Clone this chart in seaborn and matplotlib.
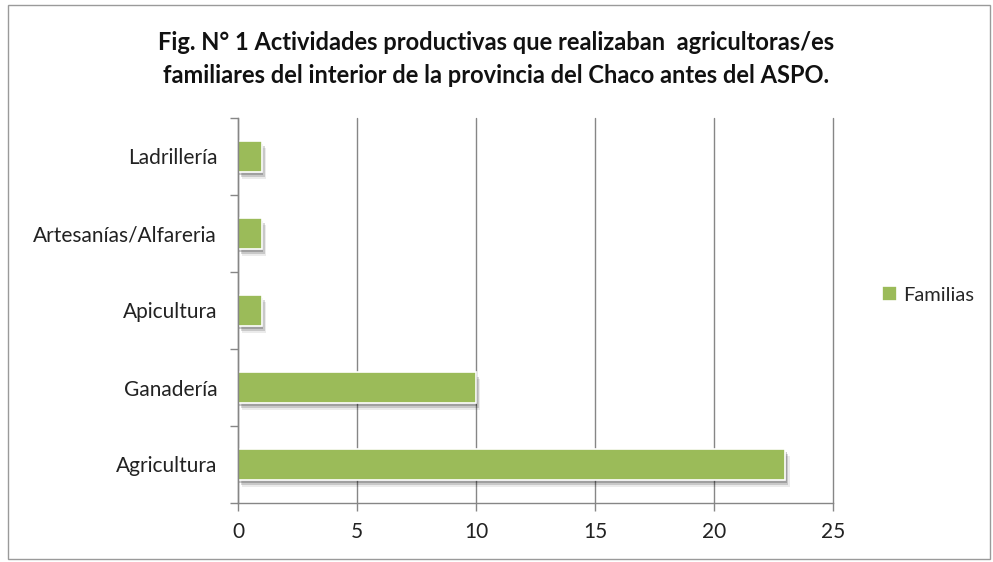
import matplotlib
matplotlib.use("Agg")
import matplotlib.pyplot as plt
import matplotlib.patheffects as pe
import seaborn as sns
import pandas as pd
import numpy as np

# data
actividades = ['Ladrillería', 'Artesanías/Alfareria', 'Apicultura', 'Ganadería', 'Agricultura']
familias = [1, 1, 1, 10, 23]
xticks = [0, 5, 10, 15, 20, 25]

titulo = ('Fig. N° 1 Actividades productivas que realizaban  agricultoras/es\n'
          'familiares del interior de la provincia del Chaco antes del ASPO.')

df = pd.DataFrame({'Actividad': actividades, 'Familias': familias})

sns.set_theme(style='white')
plt.rcParams['font.family'] = ['Lato', 'DejaVu Sans']

verde = '#9BBB59'
gris = '#868686'

fig = plt.figure(figsize=(9.93, 5.62), dpi=100)
ax = fig.add_axes([238/993, 1-503/562, (833-238)/993, (503-118)/562])

sns.barplot(data=df, x='Familias', y='Actividad', color=verde, saturation=1,
            width=0.4, edgecolor='white', linewidth=1.2, ax=ax, label='Familias')

# soft shadow like the excel one
for p in ax.patches:
    p.set_path_effects([pe.SimplePatchShadow(offset=(3, -5), shadow_rgbFace='#000000', alpha=0.08),
                        pe.SimplePatchShadow(offset=(2, -3.5), shadow_rgbFace='#000000', alpha=0.15),
                        pe.SimplePatchShadow(offset=(1, -2), shadow_rgbFace='#000000', alpha=0.2),
                        pe.Normal()])

ax.set_xlim(0, 25)
ax.set_ylim(4.5, -0.5)
ax.set_xticks(xticks)
ax.set_xticklabels([str(v) for v in xticks], fontsize=15, color='#222222')
ax.set_yticks(range(len(actividades)))
ax.set_yticklabels(actividades, fontsize=15, color='#222222')
ax.set_yticks(np.arange(-0.5, len(actividades), 1), minor=True)
ax.tick_params(axis='y', which='major', length=0, pad=15)
ax.tick_params(axis='y', which='minor', length=6, color=gris, width=1, direction='out', left=True)
ax.tick_params(axis='x', which='major', length=6, color=gris, width=1, direction='out', bottom=True, pad=8)
ax.set_xlabel('')
ax.set_ylabel('')

ax.grid(axis='x', color=gris, linewidth=1)
for gl in ax.get_xgridlines():
    gl.set_clip_on(False)
ax.set_axisbelow(True)
for s in ['top', 'right']:
    ax.spines[s].set_visible(False)
for s in ['left', 'bottom']:
    ax.spines[s].set_color(gris)
    ax.spines[s].set_linewidth(1)

leg = ax.legend(loc='center left', bbox_to_anchor=(1.052, 0.54), frameon=False,
                fontsize=14.5, handlelength=0.75, handleheight=0.75, handletextpad=0.3)
for h in leg.legend_handles:
    h.set_path_effects([])
    h.set_edgecolor('white')

fig.text(0.5, 0.895, titulo, ha='center', va='center', fontsize=17,
         fontweight='bold', linespacing=1.5, color='#111111')

borde = plt.Rectangle((8/993, 0.005), 982/993, 1-5/562-0.005, transform=fig.transFigure,
                      fill=False, edgecolor='#9a9a9a', linewidth=1)
fig.patches.append(borde)

fig.savefig('out.png', dpi=100)
